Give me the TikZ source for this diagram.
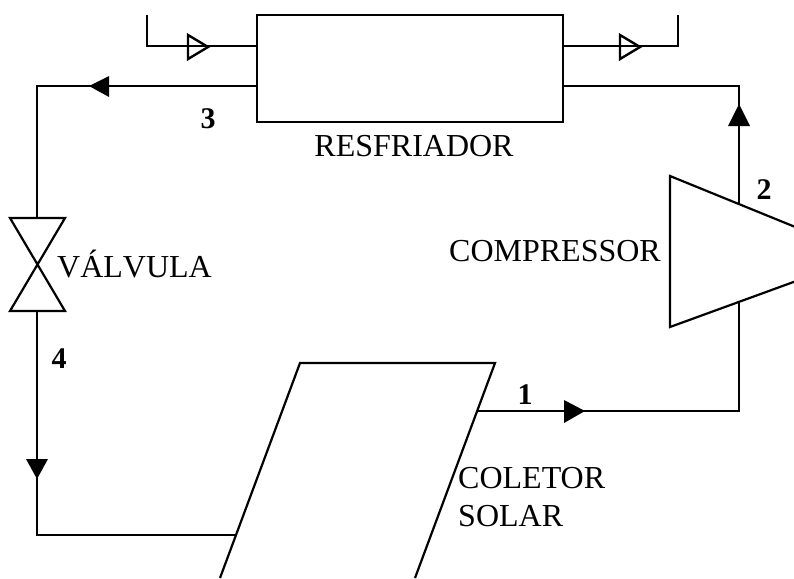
\documentclass[tikz,border=0pt]{standalone}
\usepackage{fontspec}
\setmainfont{Liberation Serif}
\tikzset{
  pipe/.style={draw=black,line width=2.2pt,line join=miter},
  lbl/.style={font=\fontsize{32}{34}\selectfont,inner sep=0pt,text=black},
  num/.style={font=\fontsize{30}{32}\selectfont\bfseries,inner sep=0pt,text=black},
  solidtip/.style={fill=black,draw=none},
  hollowtip/.style={draw=black,line width=2.4pt,fill=none},
}
\begin{document}
\begin{tikzpicture}[x=1pt,y=-1pt]
\useasboundingbox[fill=white] (0,0) rectangle (794,578);
% cooler
\node[pipe,minimum width=306pt,minimum height=107pt,inner sep=0pt,outer sep=0pt,anchor=north west] (cooler) at (257,15) {};
\coordinate (wl0) at (147,15); \coordinate (wl1) at (147,46); \coordinate (wl2) at (257,46);
\coordinate (wr0) at (678,15); \coordinate (wr1) at (678,46); \coordinate (wr2) at (563,46);
\draw[pipe] (wl0) -- (wl1) -- (wl2);
\draw[pipe] (wr2) -- (wr1) -- (wr0);
\draw[hollowtip] (188,35) -- (208,47) -- (188,59) -- cycle;
\draw[hollowtip] (620,35) -- (640,47) -- (620,59) -- cycle;
% valve
\coordinate (vc) at (37,265);
\draw[pipe] (10,218) -- (65,218) -- (10,311) -- (65,311) -- cycle;
% compressor
\coordinate (ct) at (739,203); \coordinate (cb) at (739,302);
\draw[pipe] (810,233) -- (670,176) -- (670,327) -- (810,276);
% collector
\coordinate (pl) at (235.5,535); \coordinate (pr) at (477,411);
\draw[pipe] (220,578) -- (300,363) -- (495,363) -- (415,578);
% circuit
\coordinate (c3) at (257,86); \coordinate (c3k) at (37,86); \coordinate (vt) at (37,218);
\coordinate (vb) at (37,311); \coordinate (c4k) at (37,535);
\coordinate (c1k) at (739,411); \coordinate (c2k) at (739,86); \coordinate (c2) at (563,86);
\draw[pipe] (c3) -- (c3k) -- (vt);
\draw[pipe] (vb) -- (c4k) -- (pl);
\draw[pipe] (pr) -- (c1k) -- (cb);
\draw[pipe] (ct) -- (c2k) -- (c2);
\fill[solidtip] (89,86) -- (109,76) -- (109,97) -- cycle;
\fill[solidtip] (37,479) -- (26,459) -- (48,459) -- cycle;
\fill[solidtip] (585,411) -- (564,400) -- (564,423) -- cycle;
\fill[solidtip] (739,104) -- (728,126) -- (750,126) -- cycle;
% labels
\node[lbl,anchor=center] (tcool) at (414,146) {RESFRIADOR};
\node[lbl,anchor=west] (tval) at (57,264) {\addfontfeatures{Kerning=Off}VÁLVULA};
\node[lbl,anchor=west] (tcomp) at (449,251) {COMPRESSOR};
\node[lbl,anchor=west] (tcol) at (458,478) {COLETOR};
\node[lbl,anchor=west] (tsol) at (458,516) {SOLAR};
\node[num] (n1) at (525,395) {1};
\node[num] (n2) at (764,190) {2};
\node[num] (n3) at (208,119) {3};
\node[num] (n4) at (59,359) {4};
\end{tikzpicture}
\end{document}
